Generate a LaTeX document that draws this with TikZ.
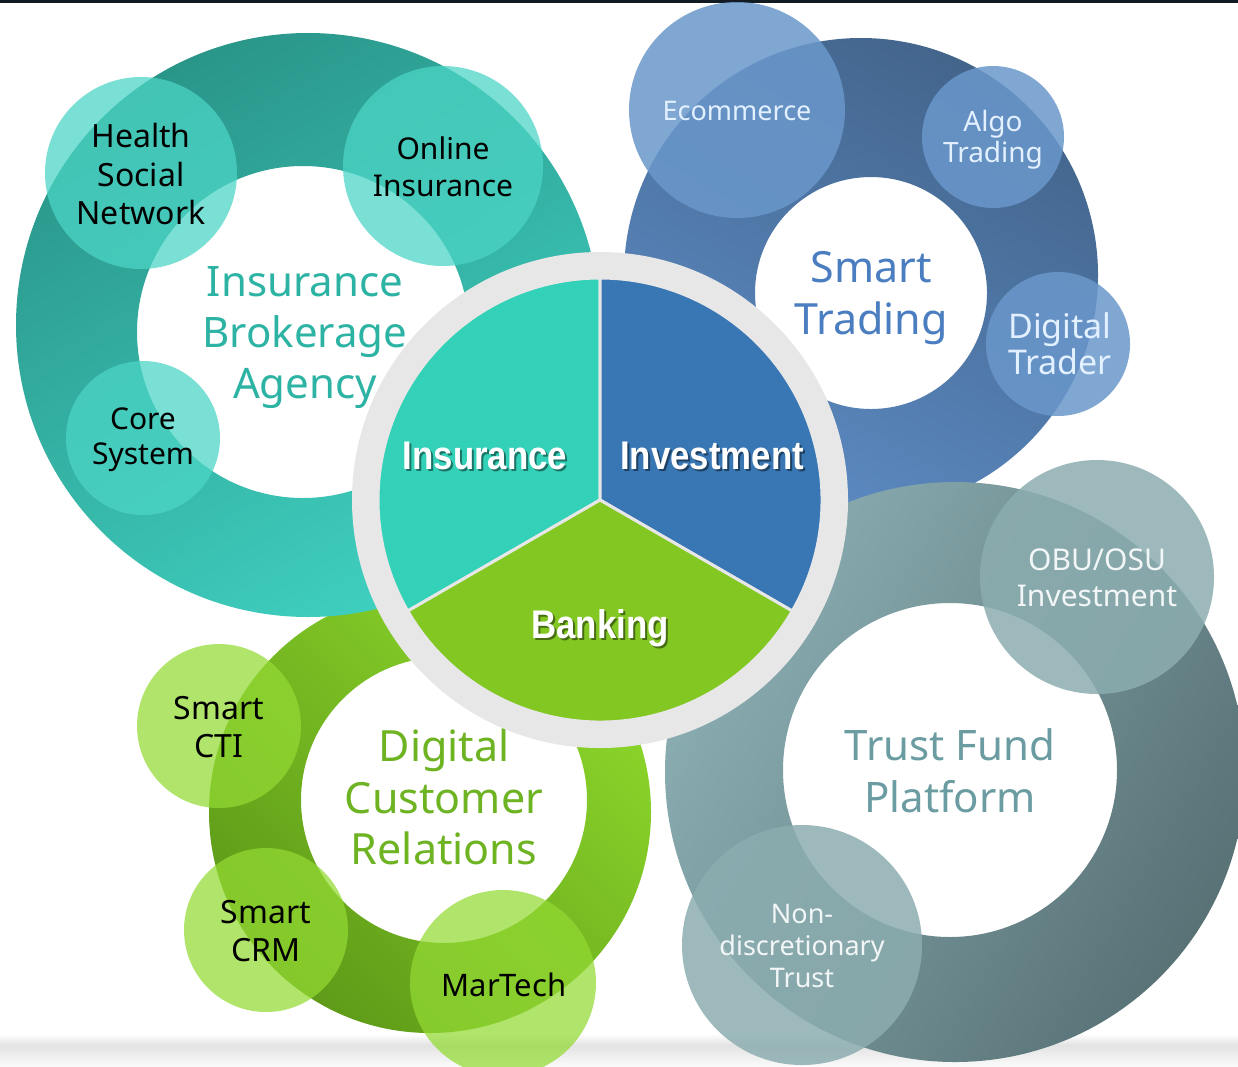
\documentclass[tikz,border=0pt]{standalone}
\usepackage{fontspec}
\setmainfont{Noto Sans}
\newfontfamily\piefont{Liberation Sans}[FakeStretch=0.87]
\definecolor{tealDark}{HTML}{2A968A}
\definecolor{tealLight}{HTML}{3FD0C0}
\definecolor{tealC}{HTML}{4CD5C5}
\definecolor{tealText}{HTML}{2DB3A4}
\definecolor{blueDark}{HTML}{43658C}
\definecolor{blueLight}{HTML}{5C8AC2}
\definecolor{blueC}{HTML}{6A97CB}
\definecolor{blueText}{HTML}{4A7EC0}
\definecolor{blueLbl}{HTML}{E2F0FF}
\definecolor{greenDark}{HTML}{5E9A18}
\definecolor{greenLight}{HTML}{8CD62B}
\definecolor{greenC}{HTML}{93DA33}
\definecolor{greenText}{HTML}{6DB322}
\definecolor{trustLight}{HTML}{8BAEB2}
\definecolor{trustDark}{HTML}{587276}
\definecolor{trustC}{HTML}{8CADB0}
\definecolor{trustText}{HTML}{6A9CA2}
\definecolor{trustLbl}{HTML}{F2F6F6}
\definecolor{pieIns}{HTML}{33D1B7}
\definecolor{pieInv}{HTML}{3876B4}
\definecolor{pieBank}{HTML}{82C722}
\definecolor{pieRing}{HTML}{E7E7E7}
\definecolor{topBand}{HTML}{121A22}
\begin{document}
\begin{tikzpicture}[x=1pt,y=-1pt,
  lbl/.style={align=center, inner sep=0pt},
  pielbl/.style={align=center, inner sep=0pt, text=white, font=\piefont\bfseries\fontsize{40}{46}\selectfont},
  pieshadow/.style={align=center, inner sep=0pt, text=black, opacity=0.45, font=\piefont\bfseries\fontsize{40}{46}\selectfont},
  sector/.style={draw=pieRing, line width=3pt, line join=round}]
\useasboundingbox (0,0) rectangle (1238,1066);
\fill[white] (0,0) rectangle (1238,1066);
\fill[topBand] (0,0) rectangle (1238,3);
\shade[top color=white, bottom color=black!11] (0,1034) rectangle (1238,1045);
\shade[top color=black!11, bottom color=black!2] (0,1045) rectangle (1238,1066);

% ---- Smart Trading (blue) ----
\shade[even odd rule, top color=blueDark, bottom color=blueLight, shading angle=-30]
  (861,275) circle[radius=237] (871,293) circle[radius=116];
\fill[blueC, opacity=0.85] (737,110) circle[radius=108];
\fill[blueC, opacity=0.85] (993,137) circle[radius=71];
\fill[blueC, opacity=0.85] (1058,344) circle[radius=72];

% ---- Trust Fund Platform (grey) ----
\shade[even odd rule, top color=trustLight, bottom color=trustDark, shading angle=60]
  (955,772) circle[radius=290] (950,770) circle[radius=167];
\fill[trustC, opacity=0.85] (1097,577) circle[radius=117];
\fill[trustC, opacity=0.85] (802,945) circle[radius=120];

% ---- Digital Customer Relations (green) ----
\shade[even odd rule, top color=greenLight, bottom color=greenDark, shading angle=-45]
  (430,812) circle[radius=221] (444,800) circle[radius=143];
\fill[greenC, opacity=0.73] (219,726) circle[radius=82];
\fill[greenC, opacity=0.73] (266,930) circle[radius=82];
\fill[greenC, opacity=0.73] (503,983) circle[radius=93];

% ---- Insurance Brokerage Agency (teal) ----
\shade[even odd rule, top color=tealDark, bottom color=tealLight, shading angle=30]
  (308,325) circle[radius=292] (303,332) circle[radius=166];
\fill[tealC, opacity=0.74] (141,173) circle[radius=96];
\fill[tealC, opacity=0.74] (443,166) circle[radius=100];
\fill[tealC, opacity=0.74] (143,438) circle[radius=77];

% ---- ring labels ----
\node[lbl, text=tealText, font=\fontsize{42}{51}\selectfont] (iba) at (305,338) {Insurance\\Brokerage\\Agency};
\node[lbl, font=\fontsize{32}{38.5}\selectfont] (hsn) at (141,174) {Health\\Social\\Network};
\node[lbl, font=\fontsize{30}{37}\selectfont] (oi) at (443,167) {Online\\Insurance};
\node[lbl, font=\fontsize{30}{35}\selectfont] (cs) at (143,440) {Core\\System};

\node[lbl, text=blueText, font=\fontsize{43}{52}\selectfont] (st) at (871,298) {Smart\\Trading};
\node[lbl, text=blueLbl, font=\fontsize{27}{32}\selectfont] (ec) at (737,111) {Ecommerce};
\node[lbl, text=blueLbl, font=\fontsize{28}{31}\selectfont] (at) at (993,140) {Algo\\Trading};
\node[lbl, text=blueLbl, font=\fontsize{34}{36}\selectfont] (dt) at (1060,344) {Digital\\Trader};

\node[lbl, text=greenText, font=\fontsize{43}{51.5}\selectfont] (dcr) at (444,797) {Digital\\Customer\\Relations};
\node[lbl, font=\fontsize{32}{38}\selectfont] (cti) at (219,727) {Smart\\CTI};
\node[lbl, font=\fontsize{32}{38}\selectfont] (crm) at (266,931) {Smart\\CRM};
\node[lbl, font=\fontsize{31}{37}\selectfont] (mt) at (504,985) {MarTech};

\node[lbl, text=trustText, font=\fontsize{42}{52}\selectfont] (tfp) at (950,771) {Trust Fund\\Platform};
\node[lbl, text=trustLbl, font=\fontsize{30}{36}\selectfont] (obu) at (1097,578) {OBU/OSU\\Investment};
\node[lbl, text=trustLbl, font=\fontsize{27}{32}\selectfont] (ndt) at (802,946) {Non-\\discretionary\\Trust};

% ---- central pie ----
\coordinate (pc) at (600,500);
\fill[pieRing] (pc) circle[radius=248];
\path[sector, fill=pieIns]  (pc) -- ++(-90:222) arc[start angle=-90, end angle=-210, radius=222] -- cycle;
\path[sector, fill=pieInv]  (pc) -- ++(30:222) arc[start angle=30, end angle=-90, radius=222] -- cycle;
\path[sector, fill=pieBank] (pc) -- ++(-210:222) arc[start angle=-210, end angle=-330, radius=222] -- cycle;

\node[pieshadow] (insS) at (487,458) {Insurance};
\node[pielbl] (ins) at (485,456) {Insurance};
\node[pieshadow] (invS) at (714,458) {Investment};
\node[pielbl] (inv) at (712,456) {Investment};
\node[pieshadow] (bankS) at (602,630) {Banking};
\node[pielbl] (bank) at (600,628) {Banking};
\end{tikzpicture}
\end{document}
